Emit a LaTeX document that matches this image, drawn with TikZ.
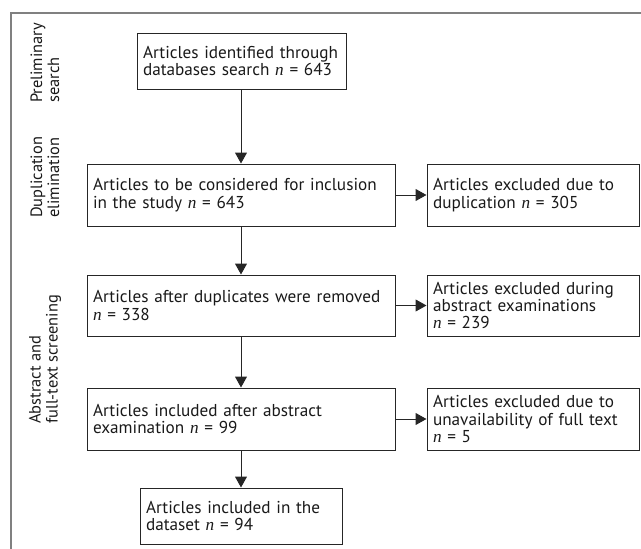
\documentclass[tikz,border=0pt]{standalone}
\usepackage{fontspec}
\setmainfont{PT Sans}
\newfontfamily\nfont{Liberation Serif}
\usetikzlibrary{arrows.meta}
\newcommand{\nn}{{\nfont\itshape n}}
\tikzset{
  box/.style={draw=black!85, line width=1pt, inner xsep=6pt, inner ysep=0pt, align=left,
    font=\fontsize{17.2}{17.4}\selectfont, text=black!90},
  side/.style={rotate=90, anchor=west, align=left, inner sep=0pt,
    font=\fontsize{16.4}{17}\selectfont, text=black!90},
  arr/.style={draw=black!85, line width=1pt, -{Triangle[length=11pt,width=12pt]}}
}
\begin{document}
\begin{tikzpicture}[x=1pt,y=-1pt]
\useasboundingbox (0,0) rectangle (641,549);
\draw[gray, line width=1.5pt] (11,549) -- (11,13) -- (641,13);
\node[box, minimum width=209pt, minimum height=56pt, text width=197pt] (b1) at (241.5,61) {Articles identified through\\databases search \nn{} = 643};
\node[box, minimum width=308pt, minimum height=62pt, text width=296pt] (b2) at (241,195) {Articles to be considered for inclusion\\in the study \nn{} = 643};
\node[box, minimum width=212pt, minimum height=62pt, text width=200pt] (r2) at (533,195) {Articles excluded due to\\duplication \nn{} = 305};
\node[box, minimum width=308pt, minimum height=61pt, text width=296pt] (b3) at (241,305.5) {Articles after duplicates were removed\\\nn{} = 338};
\node[box, minimum width=212pt, minimum height=61pt, text width=200pt] (r3) at (533,305.5) {Articles excluded during\\abstract examinations\\\nn{} = 239};
\node[box, minimum width=308pt, minimum height=62pt, text width=296pt] (b4) at (241,419) {Articles included after abstract\\examination \nn{} = 99};
\node[box, minimum width=212pt, minimum height=62pt, text width=200pt] (r4) at (533,419) {Articles excluded due to\\unavailability of full text\\\nn{} = 5};
\node[box, minimum width=202pt, minimum height=56pt, text width=190pt] (b5) at (241,516) {Articles included in the\\dataset \nn{} = 94};
\draw[arr] (b1.south -| 241,0) -- (241,0 |- b2.north);
\draw[arr] (b2) -- (r2);
\draw[arr] (b2) -- (b3);
\draw[arr] (b3) -- (r3);
\draw[arr] (b3) -- (b4);
\draw[arr] (b4) -- (r4);
\draw[arr] (b4) -- (b5);
\node[side] (s1) at (45,103) {Preliminary\\search};
\node[side] (s2) at (45,218) {Duplication\\elimination};
\node[side] (s3) at (45,424) {Abstract and\\full-text screening};
\end{tikzpicture}
\end{document}
